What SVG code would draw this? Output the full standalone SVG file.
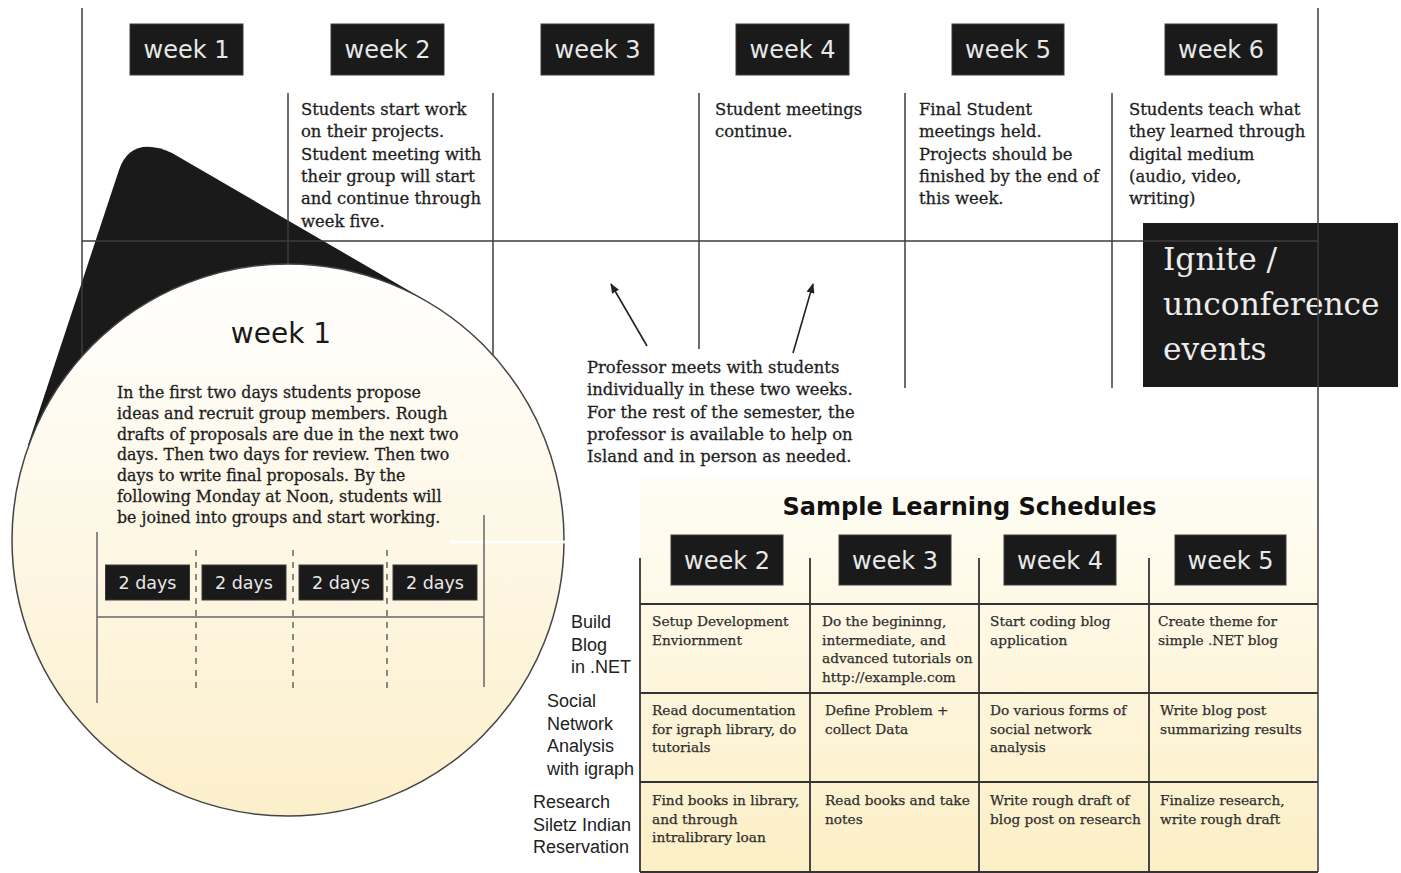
<svg xmlns="http://www.w3.org/2000/svg" width="1401" height="873" viewBox="0 0 1401 873">
<defs>
<style>
.bx{fill:#1a1a1a;stroke:#3a3a3a;stroke-width:1}
.wk{font-family:"DejaVu Sans",sans-serif;font-size:24px;fill:#e8e8e8;text-anchor:middle}
.dy{font-family:"DejaVu Sans",sans-serif;font-size:17.5px;fill:#e8e8e8;text-anchor:middle}
.col{font-family:"DejaVu Serif",serif;font-size:16.4px;fill:#1e1e1e;stroke:#1e1e1e;stroke-width:0.3}
.par{font-family:"DejaVu Serif",serif;font-size:15.8px;fill:#1e1e1e;stroke:#1e1e1e;stroke-width:0.3}
.cell{font-family:"DejaVu Serif",serif;font-size:13.7px;fill:#2e2e2e;stroke:#2e2e2e;stroke-width:0.25}
.lab{font-family:"Liberation Sans",Arial,sans-serif;font-size:18px;fill:#222}
.gl{stroke:#3c3c3c;stroke-width:1.5;fill:none}
.tl{stroke:#333;stroke-width:1.8;fill:none}
.il{stroke:#666;stroke-width:1.5;fill:none}
.dl{stroke:#666;stroke-width:1.5;fill:none;stroke-dasharray:6 6}
</style>
<linearGradient id="gCircle" x1="0" y1="0" x2="0" y2="1">
<stop offset="0" stop-color="#ffffff"/>
<stop offset="1" stop-color="#fcefcb"/>
</linearGradient>
<linearGradient id="gTable" x1="0" y1="0" x2="0" y2="1">
<stop offset="0" stop-color="#fffdf5"/>
<stop offset="1" stop-color="#fcefc6"/>
</linearGradient>
<marker id="ah" markerWidth="10" markerHeight="8" refX="9" refY="4" orient="auto" markerUnits="userSpaceOnUse">
<path d="M0,0 L10,4 L0,8 Z" fill="#222"/>
</marker>
</defs>
<rect x="0" y="0" width="1401" height="873" fill="#ffffff"/>

<!-- Ignite box (under grid lines) -->
<g id="ignite">
<rect x="1143" y="223" width="255" height="164" fill="#1a1a1a"/>
</g>

<!-- magnifier cone -->
<g id="magnifier-cone">
<path d="M28,445 L119,170 C127,146 146,141 172,153 L425,300 L288,540 Z" fill="#1a1a1a"/>
</g>

<!-- timeline grid -->
<g id="timeline-grid">
<line class="gl" x1="82" y1="8" x2="82" y2="360"/>
<line class="gl" x1="288" y1="93" x2="288" y2="270"/>
<line class="gl" x1="493" y1="93" x2="493" y2="362"/>
<line class="gl" x1="699" y1="93" x2="699" y2="349"/>
<line class="gl" x1="905" y1="93" x2="905" y2="388"/>
<line class="gl" x1="1112" y1="93" x2="1112" y2="388"/>
<line class="gl" x1="82" y1="241" x2="1318" y2="241"/>
</g>

<g id="ignite-label">
<text font-family="DejaVu Serif,serif" font-size="31.3" fill="#ececec">
<tspan x="1163" y="270">Ignite /</tspan>
<tspan x="1163" y="315">unconference</tspan>
<tspan x="1163" y="360">events</tspan>
</text>
</g>

<!-- week headers -->
<g id="week1"><rect class="bx" x="130" y="24" width="113" height="51"/><text class="wk" x="186.5" y="58">week 1</text></g>
<g id="week2"><rect class="bx" x="331" y="24" width="113" height="51"/><text class="wk" x="387.5" y="58">week 2</text></g>
<g id="week3"><rect class="bx" x="541" y="24" width="113" height="51"/><text class="wk" x="597.5" y="58">week 3</text></g>
<g id="week4"><rect class="bx" x="736" y="24" width="113" height="51"/><text class="wk" x="792.5" y="58">week 4</text></g>
<g id="week5"><rect class="bx" x="952" y="24" width="112" height="51"/><text class="wk" x="1008" y="58">week 5</text></g>
<g id="week6"><rect class="bx" x="1165" y="24" width="112" height="51"/><text class="wk" x="1221" y="58">week 6</text></g>

<!-- column notes -->
<g id="week2-note"><text class="col">
<tspan x="301" y="115">Students start work</tspan>
<tspan x="301" y="137.3">on their projects.</tspan>
<tspan x="301" y="159.6">Student meeting with</tspan>
<tspan x="301" y="181.9">their group will start</tspan>
<tspan x="301" y="204.2">and continue through</tspan>
<tspan x="301" y="226.5">week five.</tspan>
</text></g>
<g id="week4-note"><text class="col">
<tspan x="715" y="115">Student meetings</tspan>
<tspan x="715" y="137.3">continue.</tspan>
</text></g>
<g id="week5-note"><text class="col">
<tspan x="919" y="115">Final Student</tspan>
<tspan x="919" y="137.3">meetings held.</tspan>
<tspan x="919" y="159.6">Projects should be</tspan>
<tspan x="919" y="181.9">finished by the end of</tspan>
<tspan x="919" y="204.2">this week.</tspan>
</text></g>
<g id="week6-note"><text class="col">
<tspan x="1129" y="115">Students teach what</tspan>
<tspan x="1129" y="137.3">they learned through</tspan>
<tspan x="1129" y="159.6">digital medium</tspan>
<tspan x="1129" y="181.9">(audio, video,</tspan>
<tspan x="1129" y="204.2">writing)</tspan>
</text></g>

<!-- professor note -->
<g id="professor-note"><text class="col">
<tspan x="587" y="373">Professor meets with students</tspan>
<tspan x="587" y="395.3">individually in these two weeks.</tspan>
<tspan x="587" y="417.6">For the rest of the semester, the</tspan>
<tspan x="587" y="439.9">professor is available to help on</tspan>
<tspan x="587" y="462.2">Island and in person as needed.</tspan>
</text></g>

<!-- connectors -->
<g id="connectors">
<line x1="647" y1="346" x2="611" y2="284" stroke="#222" stroke-width="1.6" marker-end="url(#ah)"/>
<line x1="793" y1="353" x2="813" y2="284" stroke="#222" stroke-width="1.6" marker-end="url(#ah)"/>
</g>

<!-- magnified week 1 -->
<g id="week1-detail">
<circle cx="288" cy="540" r="276" fill="url(#gCircle)" stroke="#444" stroke-width="1.5"/>
<text font-family="DejaVu Sans,sans-serif" font-size="28" fill="#1a1a1a" text-anchor="middle" x="281" y="343">week 1</text>
<text class="par">
<tspan x="117" y="398">In the first two days students propose</tspan>
<tspan x="117" y="418.8">ideas and recruit group members. Rough</tspan>
<tspan x="117" y="439.6">drafts of proposals are due in the next two</tspan>
<tspan x="117" y="460.4">days. Then two days for review. Then two</tspan>
<tspan x="117" y="481.2">days to write final proposals. By the</tspan>
<tspan x="117" y="502">following Monday at Noon, students will</tspan>
<tspan x="117" y="522.8">be joined into groups and start working.</tspan>
</text>
<line x1="450" y1="542" x2="566" y2="542" stroke="#ffffff" stroke-width="3" opacity="0.9"/>
<line class="il" x1="97" y1="532" x2="97" y2="703"/>
<line class="il" x1="484" y1="515" x2="484" y2="687"/>
<line class="dl" x1="196" y1="550" x2="196" y2="688"/>
<line class="dl" x1="293" y1="550" x2="293" y2="688"/>
<line class="dl" x1="387" y1="550" x2="387" y2="688"/>
<line class="il" x1="97" y1="617" x2="484" y2="617"/>
<rect class="bx" x="105.5" y="565" width="84" height="35"/><text class="dy" x="147.5" y="589">2 days</text>
<rect class="bx" x="202" y="565" width="84" height="35"/><text class="dy" x="244" y="589">2 days</text>
<rect class="bx" x="299" y="565" width="84" height="35"/><text class="dy" x="341" y="589">2 days</text>
<rect class="bx" x="393" y="565" width="84" height="35"/><text class="dy" x="435" y="589">2 days</text>
</g>

<!-- sample learning schedules -->
<g id="schedules">
<rect x="640" y="478" width="678" height="394" fill="url(#gTable)"/>
<text font-family="DejaVu Sans,sans-serif" font-weight="bold" font-size="24" fill="#111" text-anchor="middle" x="969.5" y="515">Sample Learning Schedules</text>
<line class="tl" x1="640" y1="558" x2="640" y2="872"/>
<line class="tl" x1="810" y1="558" x2="810" y2="872"/>
<line class="tl" x1="979" y1="558" x2="979" y2="872"/>
<line class="tl" x1="1149" y1="558" x2="1149" y2="872"/>
<line class="tl" x1="640" y1="604" x2="1318" y2="604"/>
<line class="tl" x1="640" y1="693" x2="1318" y2="693"/>
<line class="tl" x1="640" y1="782" x2="1318" y2="782"/>
<line class="tl" x1="640" y1="872" x2="1318" y2="872"/>
</g>
<g id="right-border"><line class="gl" x1="1318" y1="8" x2="1318" y2="872"/></g>

<g id="s-week2"><rect class="bx" x="671" y="535" width="112" height="50"/><text class="wk" x="727" y="569">week 2</text></g>
<g id="s-week3"><rect class="bx" x="839" y="535" width="112" height="50"/><text class="wk" x="895" y="569">week 3</text></g>
<g id="s-week4"><rect class="bx" x="1004" y="535" width="112" height="50"/><text class="wk" x="1060" y="569">week 4</text></g>
<g id="s-week5"><rect class="bx" x="1175" y="535" width="111" height="50"/><text class="wk" x="1230.5" y="569">week 5</text></g>

<g id="row-labels">
<text class="lab"><tspan x="571" y="628">Build</tspan><tspan x="571" y="650.5">Blog</tspan><tspan x="571" y="673">in .NET</tspan></text>
<text class="lab"><tspan x="547" y="707">Social</tspan><tspan x="547" y="729.5">Network</tspan><tspan x="547" y="752">Analysis</tspan><tspan x="547" y="774.5">with igraph</tspan></text>
<text class="lab"><tspan x="533" y="808">Research</tspan><tspan x="533" y="830.5">Siletz Indian</tspan><tspan x="533" y="853">Reservation</tspan></text>
</g>

<g id="row1-cells">
<text class="cell"><tspan x="652" y="626">Setup Development</tspan><tspan x="652" y="644.7">Enviornment</tspan></text>
<text class="cell"><tspan x="822" y="626">Do the begininng,</tspan><tspan x="822" y="644.7">intermediate, and</tspan><tspan x="822" y="663.4">advanced tutorials on</tspan><tspan x="822" y="682.1">http://example.com</tspan></text>
<text class="cell"><tspan x="990" y="626">Start coding blog</tspan><tspan x="990" y="644.7">application</tspan></text>
<text class="cell"><tspan x="1158" y="626">Create theme for</tspan><tspan x="1158" y="644.7">simple .NET blog</tspan></text>
</g>
<g id="row2-cells">
<text class="cell"><tspan x="652" y="715">Read documentation</tspan><tspan x="652" y="733.7">for igraph library, do</tspan><tspan x="652" y="752.4">tutorials</tspan></text>
<text class="cell"><tspan x="825" y="715">Define Problem +</tspan><tspan x="825" y="733.7">collect Data</tspan></text>
<text class="cell"><tspan x="990" y="715">Do various forms of</tspan><tspan x="990" y="733.7">social network</tspan><tspan x="990" y="752.4">analysis</tspan></text>
<text class="cell"><tspan x="1160" y="715">Write blog post</tspan><tspan x="1160" y="733.7">summarizing results</tspan></text>
</g>
<g id="row3-cells">
<text class="cell"><tspan x="652" y="805">Find books in library,</tspan><tspan x="652" y="823.7">and through</tspan><tspan x="652" y="842.4">intralibrary loan</tspan></text>
<text class="cell"><tspan x="825" y="805">Read books and take</tspan><tspan x="825" y="823.7">notes</tspan></text>
<text class="cell"><tspan x="990" y="805">Write rough draft of</tspan><tspan x="990" y="823.7">blog post on research</tspan></text>
<text class="cell"><tspan x="1160" y="805">Finalize research,</tspan><tspan x="1160" y="823.7">write rough draft</tspan></text>
</g>
</svg>
